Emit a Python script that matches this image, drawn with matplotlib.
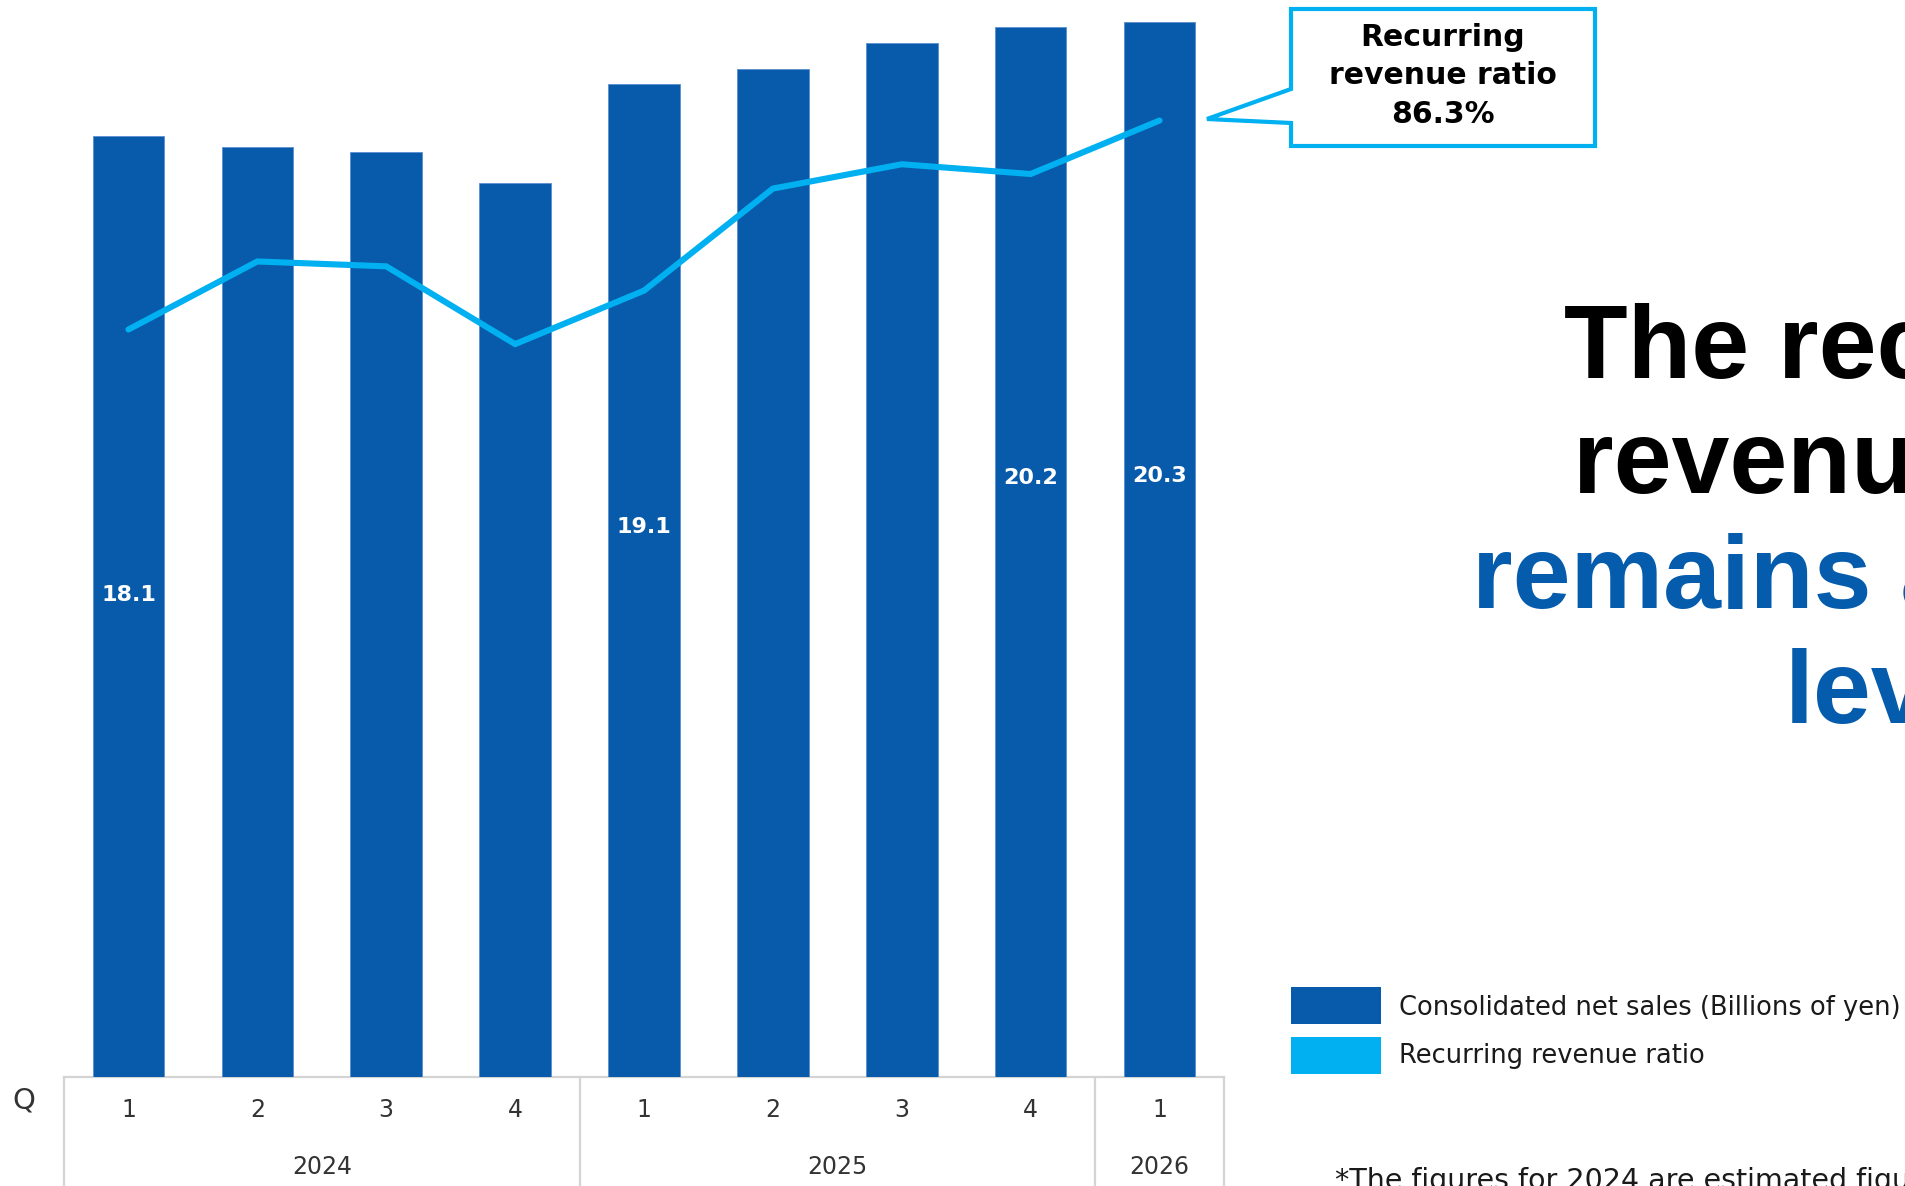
import matplotlib
matplotlib.use("Agg")
import matplotlib.pyplot as plt
from matplotlib.patches import Rectangle, Polygon

plt.rcParams["font.family"] = ["DejaVu Sans"]

# quarterly figures
quarters = ["1", "2", "3", "4", "1", "2", "3", "4", "1"]
years = ["2024", "2025", "2026"]
quarters_per_year = [4, 4, 1]
net_sales = [18.1, 17.9, 17.8, 17.2, 19.1, 19.4, 19.9, 20.2, 20.3]
recurring_ratio = [82.0, 83.4, 83.3, 81.7, 82.8, 84.9, 85.4, 85.2, 86.3]
labelled = [0, 4, 7, 8]
label_height = [9.28, 10.59, 11.52, 11.57]

DARK = "#075BAA"
LIGHT = "#00B0F0"
GRID = "#D4D4D4"
TEXT = "#333333"

W, H = 1906, 1186
fig = plt.figure(figsize=(W / 100, H / 100), dpi=100)

# main bar axes (pixel box: x 64..1224, y 0..1077)
left, right, bottom = 64, 1224, 1077
ax = fig.add_axes([left / W, 1 - bottom / H, (right - left) / W, bottom / H])
x = list(range(len(net_sales)))
ax.bar(x, net_sales, width=0.555, color=DARK, edgecolor="#5a8fd0", linewidth=0.6, zorder=2)
ax.set_xlim(-0.5, len(x) - 0.5)
ax.set_ylim(0, 20.72)
ax.axis("off")

for i, h in zip(labelled, label_height):
    ax.text(i, h, f"{net_sales[i]:.1f}", ha="center", va="center",
            color="white", fontsize=16, fontweight="bold", zorder=4)

ax2 = ax.twinx()
ax2.plot(x, recurring_ratio, color=LIGHT, lw=4.4, solid_capstyle="round",
         solid_joinstyle="miter", zorder=3)
ax2.set_ylim(66.62, 88.78)
ax2.set_xlim(-0.5, len(x) - 0.5)
ax2.axis("off")

# category table under the bars
tb = -109 / 1077
ax.plot([-0.5, len(x) - 0.5], [0, 0], color=GRID, lw=1.6, transform=ax.get_xaxis_transform(),
        clip_on=False, zorder=1)
edges = [-0.5]
for n in quarters_per_year:
    edges.append(edges[-1] + n)
for e in edges:
    ax.plot([e, e], [0, tb], color=GRID, lw=1.6, transform=ax.get_xaxis_transform(),
            clip_on=False)
for i, q in enumerate(quarters):
    ax.text(i, -33 / 1077, q, ha="center", va="center", fontsize=17, color=TEXT,
            transform=ax.get_xaxis_transform())
for y0, y1, yr in zip(edges[:-1], edges[1:], years):
    ax.text((y0 + y1) / 2, -90 / 1077, yr, ha="center", va="center", fontsize=17,
            color=TEXT, transform=ax.get_xaxis_transform())

# overlay in pixel coordinates for the annotations
ov = fig.add_axes([0, 0, 1, 1], zorder=5)
ov.set_xlim(0, W)
ov.set_ylim(H, 0)
ov.axis("off")
ov.patch.set_alpha(0)

ov.text(24, 1101, "Q", ha="center", va="center", fontsize=21, color=TEXT)

# callout for the latest ratio
box = [(1291, 9), (1595, 9), (1595, 146), (1291, 146), (1291, 123),
       (1207, 119), (1291, 89)]
ov.add_patch(Polygon(box, closed=True, facecolor="white", edgecolor=LIGHT, lw=3.0,
                     joinstyle="miter"))
ov.text(1443, 76, f"Recurring\nrevenue ratio\n{recurring_ratio[-1]:.1f}%", ha="center",
        va="center", fontsize=21.5, fontweight="bold", color="black", linespacing=1.4)

# headline
cx = 1900
for txt, yb, col in [("The recurring", 378, "black"), ("revenue ratio", 493, "black"),
                     ("remains at a high", 608, "#055BAC"), ("level", 723, "#055BAC")]:
    ov.text(cx, yb, txt, ha="center", va="baseline", fontsize=75, fontweight="bold",
            color=col, family=["Liberation Sans", "DejaVu Sans"])

# legend
ov.add_patch(Rectangle((1291, 987), 90, 37, facecolor=DARK, edgecolor="none"))
ov.add_patch(Rectangle((1291, 1037), 90, 37, facecolor=LIGHT, edgecolor="none"))
ov.text(1399, 1008, "Consolidated net sales (Billions of yen)", ha="left", va="center",
        fontsize=18.5, color="#1a1a1a")
ov.text(1399, 1056, "Recurring revenue ratio", ha="left", va="center",
        fontsize=18.5, color="#1a1a1a")

ov.text(1335, 1189, "*The figures for 2024 are estimated figures.", ha="left",
        va="baseline", fontsize=20.5, color="#1a1a1a")

fig.savefig("out.png", dpi=100)
